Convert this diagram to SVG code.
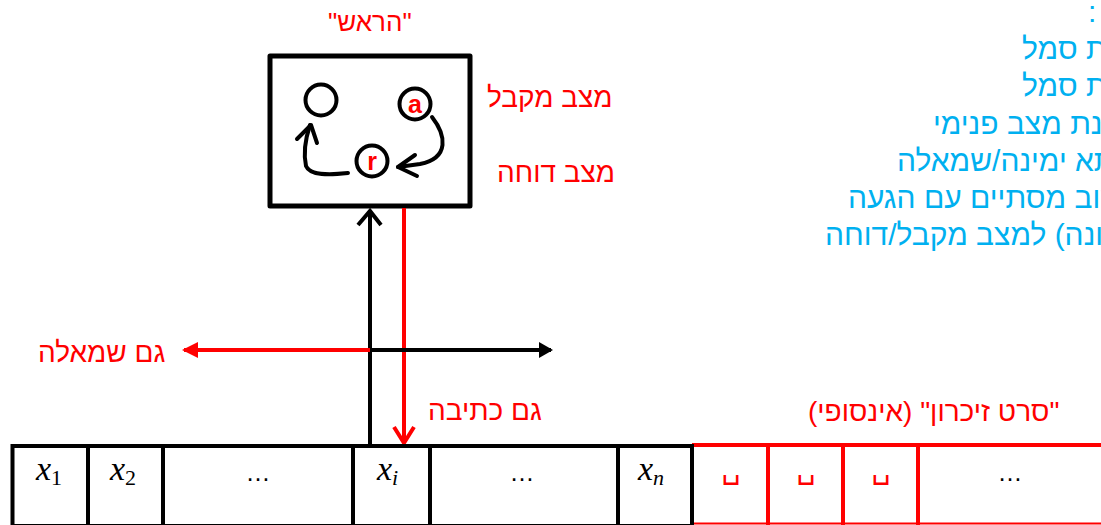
<svg xmlns="http://www.w3.org/2000/svg" width="1101" height="525" viewBox="0 0 1101 525">
<defs>
<style>
.red{fill:#FF0000;font-family:"Liberation Sans","DejaVu Sans",sans-serif;font-size:28px}
.blue{fill:#00B0F0;font-family:"Liberation Sans","DejaVu Sans",sans-serif;font-size:30px}
.math{font-family:"Liberation Serif","DejaVu Serif",serif;font-style:italic;font-size:34px;fill:#000}
.sub{font-style:normal;font-size:22px}
.subi{font-style:italic;font-size:22px}
.dots{font-family:"Liberation Sans",sans-serif;font-size:25px;fill:#000;text-anchor:middle}
.cellB{fill:#fff;stroke:#000;stroke-width:4}
.lineB{stroke:#000;stroke-width:4;fill:none}
.lineR{stroke:#FF0000;stroke-width:4;fill:none}
.blank{font-family:"DejaVu Sans",sans-serif;font-size:30px;fill:#FF0000;text-anchor:middle}
.state{fill:#fff;stroke:#000;stroke-width:4}
.stlbl{fill:#FF0000;font-family:"Liberation Sans",sans-serif;font-weight:bold;font-size:25px;text-anchor:middle}
</style>
<marker id="triR" markerWidth="16" markerHeight="16" viewBox="0 0 16 16" refX="14" refY="8" orient="auto" markerUnits="userSpaceOnUse">
<path d="M0,0 L16,8 L0,16 z" fill="#FF0000"/>
</marker>
<marker id="triB" markerWidth="14" markerHeight="16" viewBox="0 0 14 16" refX="12" refY="8" orient="auto" markerUnits="userSpaceOnUse">
<path d="M0,0 L14,8 L0,16 z" fill="#000"/>
</marker>
</defs>
<rect width="1101" height="525" fill="#fff"/>

<!-- Head -->
<g id="head">
<rect x="270" y="56" width="200" height="150" fill="#fff" stroke="#000" stroke-width="5" stroke-linejoin="round"/>
</g>
<g id="state-empty"><circle cx="321" cy="100" r="15.5" class="state"/></g>
<g id="state-a"><circle cx="415" cy="104" r="15.5" class="state"/><text x="415" y="113" class="stlbl">a</text></g>
<g id="state-r"><circle cx="372" cy="161" r="15.5" class="state"/><text x="372" y="170" class="stlbl">r</text></g>

<!-- labels -->
<g id="label-head"><text x="328" y="31" class="red" style="font-size:26px" direction="rtl" text-anchor="end">"הראש"</text></g>
<g id="label-accept"><text x="487" y="107" class="red">מצב מקבל</text></g>
<g id="label-reject"><text x="497" y="182" class="red">מצב דוחה</text></g>
<g id="label-left"><text x="38" y="362" class="red">גם שמאלה</text></g>
<g id="label-write"><text x="428" y="420" class="red">גם כתיבה</text></g>
<g id="label-tape"><text x="808" y="421" class="red" direction="rtl" text-anchor="end">"סרט זיכרון" (אינסופי)</text></g>

<!-- blue notes -->
<g id="notes" class="blue">
<text x="1088" y="22">:</text>
<text x="1022" y="59">ת סמל</text>
<text x="1022" y="96">ת סמל</text>
<text x="933" y="134">ונת מצב פנימי</text>
<text x="897" y="171">תא ימינה/שמאלה</text>
<text x="848" y="208">שוב מסתיים עם הגעה</text>
<text x="825" y="245">ונה) למצב מקבל/דוחה</text>
</g>

<!-- connectors -->
<g id="connectors">
<path d="M432,117 C446,135 450,158 420,164 L398,167" class="lineB" stroke-linecap="round"/>
<path d="M415,155 L398,167 L417,176" class="lineB" stroke-linecap="round" stroke-linejoin="round"/>
<path d="M348,173 C330,175 310,176 306,166 C303,152 305,140 310,125" class="lineB" stroke-linecap="round"/>
<path d="M297,139 L311,125 L317,143" class="lineB" stroke-linecap="round" stroke-linejoin="round"/>
<line x1="370" y1="444" x2="370" y2="210" class="lineB"/>
<path d="M358,225 L370,211 L381,225" class="lineB" stroke-linejoin="miter"/>
<line x1="404" y1="208" x2="404" y2="442" class="lineR"/>
<path d="M394,427 L404,443 L414,427" class="lineR"/>
<line x1="370" y1="350" x2="184" y2="350" class="lineR" marker-end="url(#triR)"/>
<line x1="370" y1="350" x2="551" y2="350" class="lineB" marker-end="url(#triB)"/>
</g>

<!-- tape -->
<g id="tape">
<line x1="692" y1="445" x2="1101" y2="445" class="lineR"/>
<line x1="692" y1="523.5" x2="1101" y2="523.5" stroke="#FF0000" stroke-width="2"/>
<rect x="12.5" y="446" width="679.5" height="80" class="cellB"/>
<g id="cell-1"><text x="36" y="480" class="math">x<tspan class="sub" dy="5">1</tspan></text></g>
<g id="cell-2"><line x1="88" y1="446" x2="88" y2="525" class="lineB"/><text x="110" y="480" class="math">x<tspan class="sub" dy="5">2</tspan></text></g>
<g id="cell-3"><line x1="163" y1="446" x2="163" y2="525" class="lineB"/><text x="258" y="481" class="dots">…</text></g>
<g id="cell-i"><line x1="353" y1="446" x2="353" y2="525" class="lineB"/><text x="377" y="480" class="math">x<tspan class="subi" dy="5">i</tspan></text></g>
<g id="cell-5"><line x1="430" y1="446" x2="430" y2="525" class="lineB"/><text x="522" y="481" class="dots">…</text></g>
<g id="cell-n"><line x1="618" y1="446" x2="618" y2="525" class="lineB"/><text x="638" y="480" class="math">x<tspan class="subi" dy="5">n</tspan></text></g>
<g id="cell-b1"><line x1="768" y1="445" x2="768" y2="525" class="lineR"/><text x="731" y="478" class="blank">␣</text></g>
<g id="cell-b2"><line x1="843" y1="445" x2="843" y2="525" class="lineR"/><text x="806" y="478" class="blank">␣</text></g>
<g id="cell-b3"><line x1="918" y1="445" x2="918" y2="525" class="lineR"/><text x="881" y="478" class="blank">␣</text></g>
<g id="cell-b4"><text x="1010" y="481" class="dots">…</text></g>
</g>
</svg>
